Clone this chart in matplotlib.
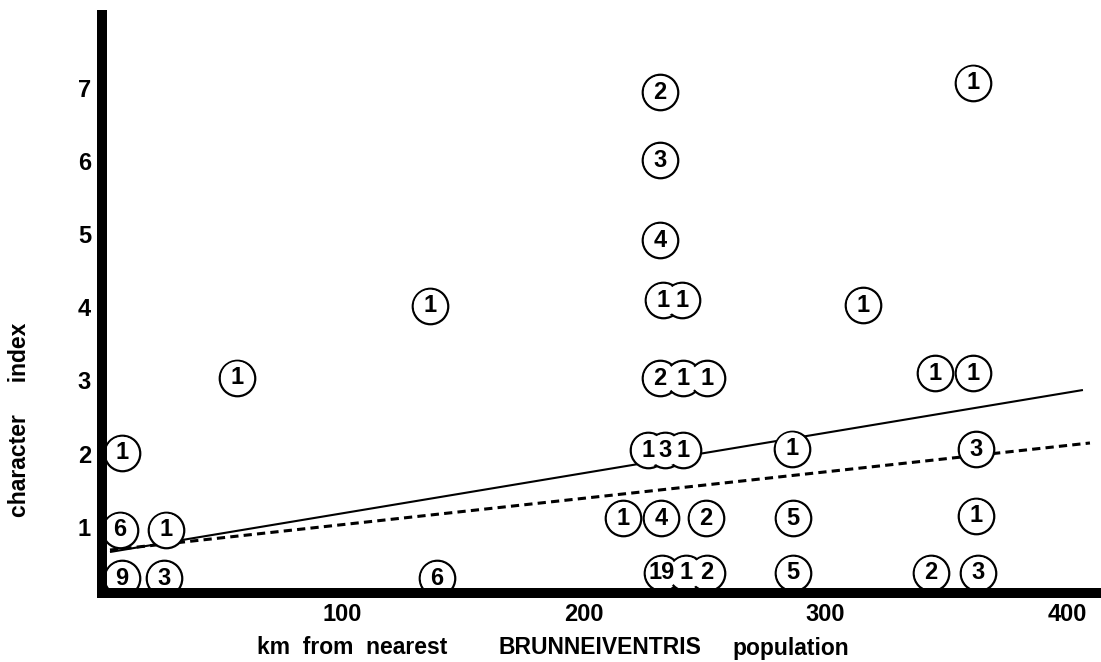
import matplotlib
matplotlib.use("Agg")
import matplotlib.pyplot as plt

# ---- data ----
km = [231.6, 361.1,
      231.6,
      231.6,
      136.4, 232.8, 240.7, 315.6,
      56.6, 231.6, 241.1, 251.0, 345.4, 361.1,
      9.0, 226.7, 233.7, 241.1, 286.2, 362.4,
      8.2, 27.2, 216.3, 232.0, 250.6, 286.6, 362.4,
      9.0, 26.4, 139.3, 232.4, 242.4, 251.0, 286.6, 343.7, 363.2]
index = [6.94, 7.07,
         6.01,
         4.92,
         4.02, 4.10, 4.10, 4.03,
         3.04, 3.03, 3.03, 3.03, 3.10, 3.10,
         2.01, 2.05, 2.05, 2.05, 2.07, 2.06,
         0.96, 0.96, 1.12, 1.12, 1.12, 1.12, 1.15,
         0.30, 0.30, 0.30, 0.37, 0.37, 0.37, 0.37, 0.37, 0.37]
counts = ["2", "1",
          "3",
          "4",
          "1", "1", "1", "1",
          "1", "2", "1", "1", "1", "1",
          "1", "1", "3", "1", "1", "3",
          "6", "1", "1", "4", "2", "5", "1",
          "9", "3", "6", "19", "1", "2", "5", "2", "3"]

solid_x = [4.0, 406.6]
solid_y = [0.656, 2.87]
dashed_x = [4.0, 409.5]
dashed_y = [0.683, 2.146]

x_ticks = [100, 200, 300, 400]
y_ticks = [1, 2, 3, 4, 5, 6, 7]

# ---- figure ----
W, H = 1101, 662
fig = plt.figure(figsize=(W / 100, H / 100), dpi=100)
ax = fig.add_axes([102 / W, 69 / H, 1 - 102 / W, (H - 15 - 69) / H])
ax.set_xlim(0.70, 414.07)
ax.set_ylim(0.0957, 7.995)

for side in ("top", "right"):
    ax.spines[side].set_visible(False)
for side in ("left", "bottom"):
    sp = ax.spines[side]
    sp.set_linewidth(7.2)
    sp.set_color("black")
    sp.set_capstyle("projecting")
    sp.set_zorder(10)

ax.plot(solid_x, solid_y, color="black", lw=1.5, zorder=2, solid_capstyle="butt")
ax.plot(dashed_x, dashed_y, color="black", lw=2.2, zorder=2,
        linestyle=(0, (2.7, 1.7)), dash_capstyle="butt")

ax.scatter(km, index, s=654, facecolor="white", edgecolor="black",
           linewidths=1.6, zorder=3, clip_on=False)
ax.scatter(km, index, s=540, facecolor="white", edgecolor="none",
           zorder=4, clip_on=False)
for x, y, c in zip(km, index, counts):
    ax.text(x, y, c, ha="center", va="center", fontsize=17,
            fontweight="bold", fontstretch="condensed",
            family=["Liberation Sans Narrow", "Liberation Sans", "DejaVu Sans"],
            zorder=5, clip_on=False)

tick_font = dict(family=["Liberation Sans", "DejaVu Sans"], fontweight="bold",
                 fontsize=17)
ax.set_xticks(x_ticks)
ax.set_xticklabels([str(v) for v in x_ticks], **tick_font)
ax.set_yticks(y_ticks)
ax.set_yticklabels([str(v) for v in y_ticks], **tick_font)
ax.tick_params(axis="both", length=0)
ax.tick_params(axis="x", pad=7)
ax.tick_params(axis="y", pad=8)

label_font = dict(family=["Liberation Sans", "DejaVu Sans"], fontweight="bold",
                  fontsize=16.5)
label_y = 1 - 648 / H
fig.text(257 / W, label_y, "km  from  nearest", ha="left", va="center", **label_font)
fig.text(499 / W, label_y, "BRUNNEIVENTRIS", ha="left", va="center", **label_font)
fig.text(732 / W, label_y, "population", ha="left", va="center", **label_font)
fig.text(20 / W, 1 - 420 / H, "character     index", rotation=90,
         ha="center", va="center", **label_font)

fig.savefig("out.png", dpi=100, facecolor="white")
